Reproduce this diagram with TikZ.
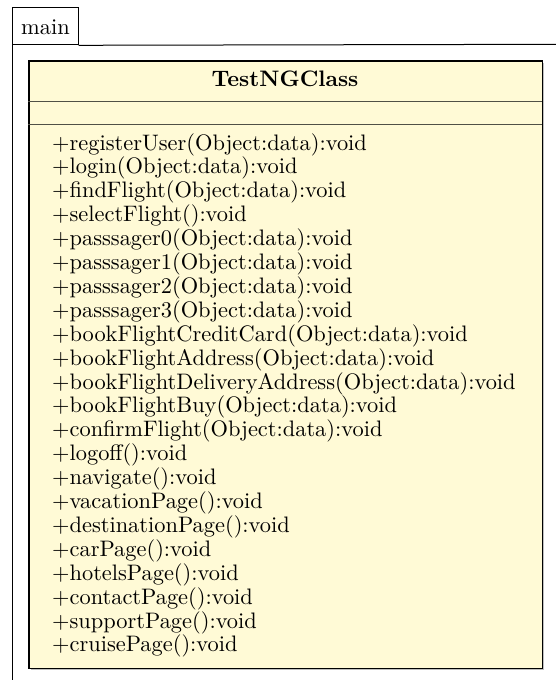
\documentclass[tikz,border=0pt]{standalone}
\usetikzlibrary{positioning}
\definecolor{classfill}{RGB}{255,250,214}
\definecolor{sepgray}{RGB}{80,80,70}
\newcommand{\bigtext}[1]{\scalebox{2.24}{\fontsize{10}{12}\selectfont #1}}
\tikzset{
  frameline/.style={draw=black, line width=1pt},
  classbox/.style={draw=black, line width=1.5pt, fill=classfill, inner sep=0pt},
  method/.style={anchor=base west, inner sep=0pt},
  titletext/.style={anchor=base, inner sep=0pt},
  tabtext/.style={anchor=base west, inner sep=0pt}
}
\begin{document}
\begin{tikzpicture}[x=1pt,y=-1pt]
\useasboundingbox (0,0) rectangle (556,680);
% package frame with its name tab
\node[frameline, minimum width=65.4pt, minimum height=37pt, anchor=north west, inner sep=0pt] (tab) at (12.3,7.3) {};
\node[tabtext] (tabname) at (21,34) {\bigtext{main}};
\coordinate (frameR) at (560,44.3);
\coordinate (frameB) at (12.3,684);
\draw[frameline] (tab.south east) -- (frameR);
\draw[frameline] (tab.south west) -- (frameB);
% class box with shadow
\fill[black!25] (30.5,62.8) rectangle (543.8,669.8);
\node[classbox, minimum width=513.4pt, minimum height=607.4pt, anchor=north west] (cls) at (28.3,60.3) {};
\coordinate (sep1L) at (28.3,101.7);
\coordinate (sep1R) at (541.7,101.7);
\coordinate (sep2L) at (28.3,124);
\coordinate (sep2R) at (541.7,124);
\draw[sepgray, line width=1pt] (sep1L) -- (sep1R);
\draw[sepgray, line width=1pt] (sep2L) -- (sep2R);
\node[titletext] (title) at (285,86) {\bigtext{\bfseries TestNGClass}};
\foreach \m [count=\i] in {
  +registerUser(Object:data):void,
  +login(Object:data):void,
  +findFlight(Object:data):void,
  +selectFlight():void,
  +passsager0(Object:data):void,
  +passsager1(Object:data):void,
  +passsager2(Object:data):void,
  +passsager3(Object:data):void,
  +bookFlightCreditCard(Object:data):void,
  +bookFlightAddress(Object:data):void,
  +bookFlightDeliveryAddress(Object:data):void,
  +bookFlightBuy(Object:data):void,
  +confirmFlight(Object:data):void,
  +logoff():void,
  +navigate():void,
  +vacationPage():void,
  +destinationPage():void,
  +carPage():void,
  +hotelsPage():void,
  +contactPage():void,
  +supportPage():void,
  +cruisePage():void}
  \node[method] (m\i) at (52,{150+23.9*(\i-1)}) {\bigtext{\m}};
\end{tikzpicture}
\end{document}
